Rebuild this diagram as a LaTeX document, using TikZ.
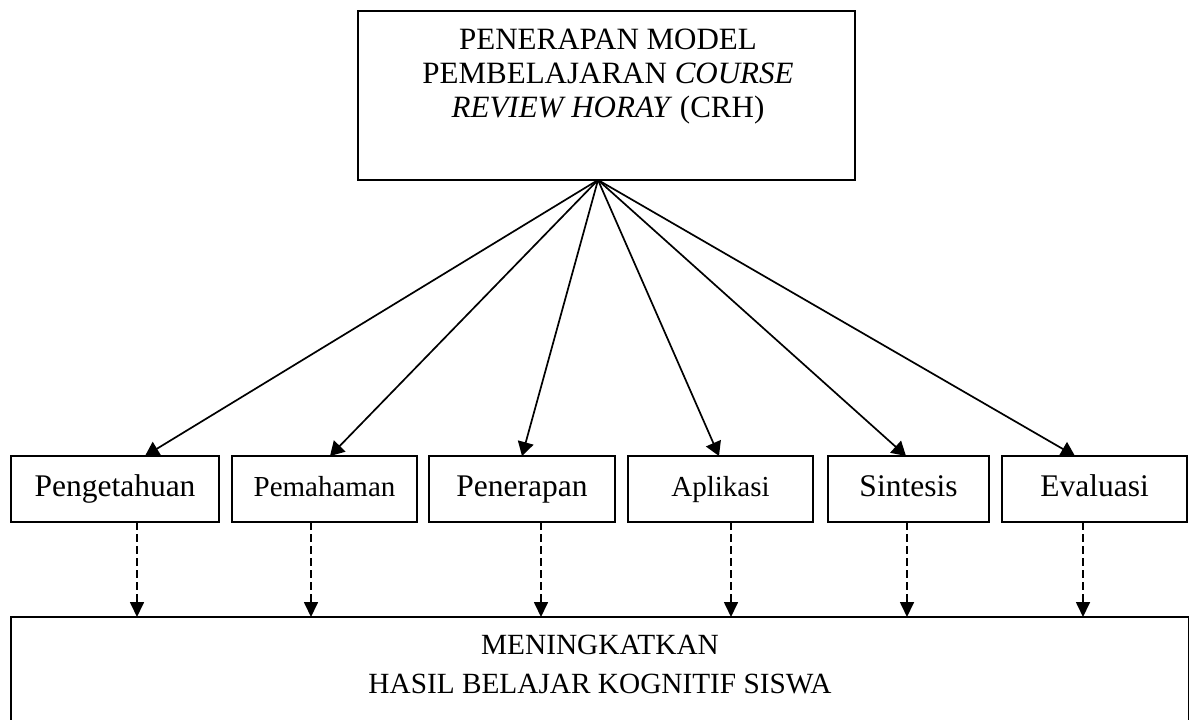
\documentclass[tikz,border=0pt]{standalone}
\usepackage{fontspec}
\setmainfont{Liberation Serif}
\usetikzlibrary{arrows.meta}
\begin{document}
\begin{tikzpicture}[x=1pt,y=-1pt,
  box/.style={draw, line width=2pt, inner sep=0pt, outer sep=0pt},
  smallbox/.style={box, minimum width=#1, minimum height=66pt,
    font=\fontsize{31.5}{34}\selectfont, text height=21.5pt, text depth=6.8pt},
  smallfont/.style={font=\fontsize{29}{32}\selectfont},
  toptext/.style={anchor=base, inner sep=0pt, font=\fontsize{31}{34}\selectfont},
  bottext/.style={anchor=base, inner sep=0pt, font=\fontsize{29.3}{33}\selectfont},
  conn/.style={line width=1.7pt, -{Triangle[length=14pt,width=16pt]}},
  dconn/.style={line width=1.7pt, dash pattern=on 8pt off 4pt, -{Triangle[length=15pt,width=14pt]}}
]
\useasboundingbox (0,0) rectangle (1189,720);

% top box
\node[box, minimum width=497pt, minimum height=169pt] (top) at (606.5,95.5) {};
\node[toptext] (t1) at (608,49) {PENERAPAN MODEL};
\node[toptext] (t2) at (608,83) {PEMBELAJARAN \textit{COURSE}};
\node[toptext] (t3) at (608,117) {\textit{REVIEW HORAY} (CRH)};

% small boxes
\node[smallbox=208pt] (A) at (115,489) {Pengetahuan};
\node[smallbox=185pt, smallfont] (B) at (324.5,489) {Pemahaman};
\node[smallbox=186pt] (C) at (522,489) {Penerapan};
\node[smallbox=185pt, smallfont] (D) at (720.5,489) {Aplikasi};
\node[smallbox=161pt] (E) at (908.5,489) {Sintesis};
\node[smallbox=185pt] (F) at (1094.5,489) {Evaluasi};

% bottom box
\node[box, minimum width=1177.5pt, minimum height=108pt] (bot) at (599.75,671) {};
\node[bottext] (b1) at (600,654) {MENINGKATKAN};
\node[bottext] (b2) at (600,693) {HASIL BELAJAR KOGNITIF SISWA};

% connectors from top box
\coordinate (apex) at ([xshift=-8.5pt]top.south);
\draw[conn] (apex) -- ([xshift=30pt]A.north);
\draw[conn] (apex) -- ([xshift=5.5pt]B.north);
\draw[conn] (apex) -- (C.north);
\draw[conn] (apex) -- ([xshift=-1.5pt]D.north);
\draw[conn] (apex) -- ([xshift=-2.5pt]E.north);
\draw[conn] (apex) -- ([xshift=-19.5pt]F.north);

% dashed connectors to bottom box
\draw[dconn] ([xshift=22pt]A.south) -- ([xshift=22pt]A.south |- bot.north);
\draw[dconn] ([xshift=-13.5pt]B.south) -- ([xshift=-13.5pt]B.south |- bot.north);
\draw[dconn] ([xshift=19pt]C.south) -- ([xshift=19pt]C.south |- bot.north);
\draw[dconn] ([xshift=10.5pt]D.south) -- ([xshift=10.5pt]D.south |- bot.north);
\draw[dconn] ([xshift=-1.5pt]E.south) -- ([xshift=-1.5pt]E.south |- bot.north);
\draw[dconn] ([xshift=-11.5pt]F.south) -- ([xshift=-11.5pt]F.south |- bot.north);
\end{tikzpicture}
\end{document}
